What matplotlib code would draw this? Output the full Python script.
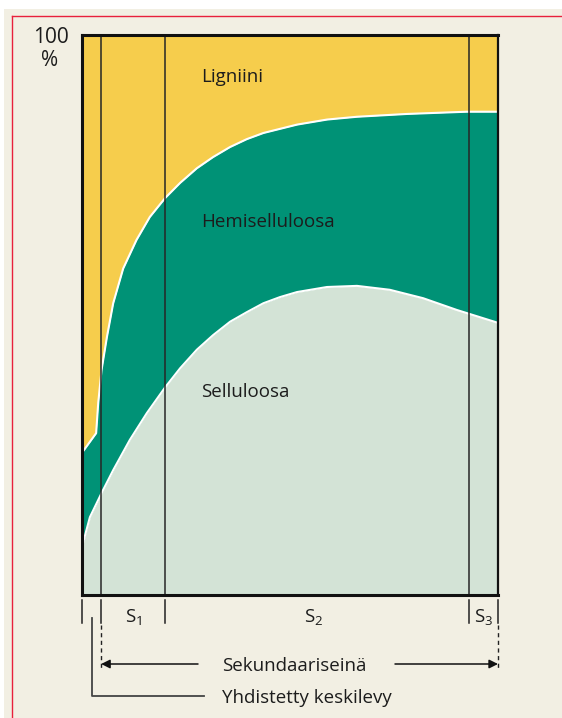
"""Cell wall composition across the wall layers (ligniini / hemiselluloosa / selluloosa)."""

import matplotlib.pyplot as plt
from matplotlib.patches import Rectangle

plt.rcParams["font.family"] = ["Open Sans", "DejaVu Sans"]

# Distance through the wall, 0..100 (relative), and cumulative share in %
X_TOP = [0, 3.4, 3.9, 4.7, 6.0, 7.5, 9.9, 13.1, 16.3, 20.0, 23.6, 27.6, 31.5,
         35.6, 39.6, 43.6, 51.7, 58.9, 66.1, 78.1, 92.5, 100]
TOP = [25.4, 28.9, 34.3, 40.2, 46.1, 52.1, 58.3, 63.4, 67.5, 70.9, 73.6, 76.2,
       78.2, 80.0, 81.4, 82.5, 84.0, 84.9, 85.4, 85.9, 86.3, 86.3]  # selluloosa + hemiselluloosa

X_LOW = [0, 1.9, 4.7, 7.5, 11.5, 15.6, 20.0, 23.6, 27.6, 31.5, 35.6, 39.6,
         43.6, 47.6, 51.7, 58.9, 66.1, 74.0, 82.0, 90.1, 100]
LOW = [8.6, 13.9, 18.2, 22.3, 27.7, 32.5, 37.1, 40.5, 43.8, 46.4, 48.8, 50.5,
       52.1, 53.2, 54.1, 55.0, 55.2, 54.5, 53.0, 50.9, 48.6]  # selluloosa

LAYER_EDGES = [4.6, 20.0, 93.0]
TICKS = [0, 4.6, 20.0, 93.0, 100]
LAYER_LABELS = ["S$\\mathregular{_1}$", "S$\\mathregular{_2}$", "S$\\mathregular{_3}$"]
LAYER_LABEL_X = [12.3, 55.8, 96.6]

YELLOW = "#f6cd4c"
GREEN = "#009276"
PALE = "#d3e3d6"
BEIGE = "#f2efe3"
INK = "#1c1c1c"

W, H = 562, 718
fig = plt.figure(figsize=(W / 100, H / 100), dpi=100, facecolor="white")

# Overlay in pixel rows, x shares the data scale of the main chart
L, R, T, B = 82, 498, 35, 595
sx = (R - L) / 100.0
ov = fig.add_axes([0, 0, 1, 1], zorder=0)
ov.set_xlim(-L / sx, (W - L) / sx)
ov.set_ylim(H, 0)
ov.axis("off")

def px(x):
    return (x - L) / sx

ov.add_patch(Rectangle((px(4), 9), 200, 800, color=BEIGE, lw=0))
ov.plot([px(12), px(W + 5)], [16, 16], color="#e8203c", lw=1.0)
ov.plot([px(12), px(12)], [16, H + 5], color="#e8203c", lw=1.0)

ov.text(px(51), 43, "100", ha="center", va="baseline", fontsize=15, color=INK)
ov.text(px(50), 66, "%", ha="center", va="baseline", fontsize=15, color=INK)

# Main chart
ax = fig.add_axes([L / W, (H - B) / H, (R - L) / W, (B - T) / H], zorder=1)
ax.set_xlim(0, 100)
ax.set_ylim(0, 100)
ax.fill_between(X_TOP, TOP, 100, color=YELLOW, lw=0)
ax.fill_between(X_TOP, 0, TOP, color=GREEN, lw=0)
ax.fill_between(X_LOW, 0, LOW, color=PALE, lw=0)
ax.plot(X_TOP, TOP, color="white", lw=1.5)
ax.plot(X_LOW, LOW, color="white", lw=1.5)
for e in LAYER_EDGES:
    ax.axvline(e, color="#262626", lw=1.1)

ax.text(28.6, 91.6, "Ligniini", fontsize=13.5, color=INK)
ax.text(28.6, 65.7, "Hemiselluloosa", fontsize=13.5, color=INK)
ax.text(28.6, 35.4, "Selluloosa", fontsize=13.5, color=INK)

ax.set_xticks([])
ax.set_yticks([])
for side in ["left", "top", "bottom"]:
    ax.spines[side].set_linewidth(2.2)
    ax.spines[side].set_color("#111111")
ax.spines["right"].set_linewidth(1.6)
ax.spines["right"].set_color("#111111")

# Layer scale below the chart
for t in TICKS:
    ov.plot([t, t], [600, 623], color="#222222", lw=1.1)
for lab, x in zip(LAYER_LABELS, LAYER_LABEL_X):
    ov.text(x, 622, lab, ha="center", va="baseline", fontsize=13.5, color=INK)

for t in [TICKS[1], TICKS[-1]]:
    ov.plot([t, t], [625, 668], color="#222222", lw=1.0, ls=(0, (3, 2.5)))

ov.annotate("", xy=(TICKS[1], 664), xytext=(px(198), 664),
            arrowprops=dict(arrowstyle="-|>", color="#111111", lw=1.1,
                            mutation_scale=13, shrinkA=0, shrinkB=0))
ov.annotate("", xy=(TICKS[-1], 664), xytext=(px(395), 664),
            arrowprops=dict(arrowstyle="-|>", color="#111111", lw=1.1,
                            mutation_scale=13, shrinkA=0, shrinkB=0))
ov.text(px(222), 671, "Sekundaariseinä", va="baseline", fontsize=13.5, color=INK)

ov.plot([px(92), px(92), px(204)], [618, 696, 696], color="#444444", lw=1.3)
ov.text(px(222), 703, "Yhdistetty keskilevy", va="baseline", fontsize=13.5, color=INK)

fig.savefig("out.png", dpi=100, facecolor="white")
